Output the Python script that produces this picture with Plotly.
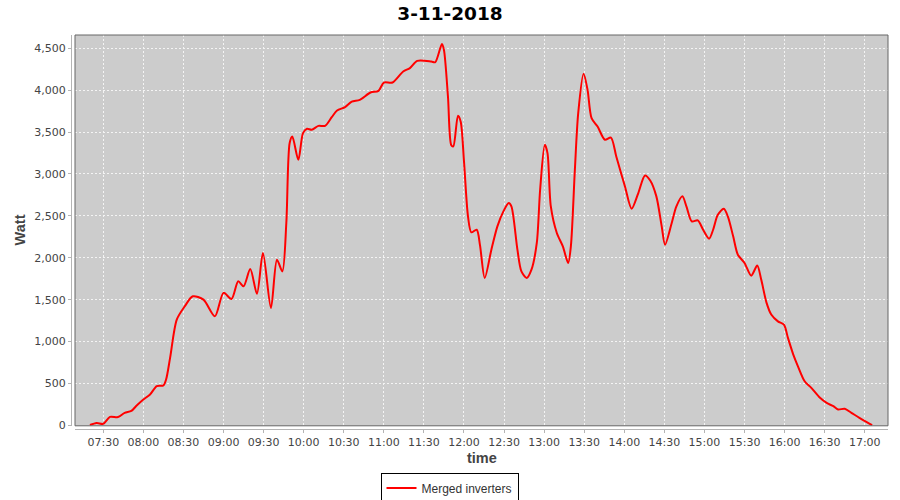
import plotly.graph_objects as go

DATE = "2018-11-03"
times = [
    "07:20:00", "07:25:00", "07:30:00", "07:35:00", "07:41:00", "07:46:00", "07:51:00", "07:55:00",
    "08:00:00", "08:05:00", "08:10:00", "08:15:00", "08:17:00", "08:20:00", "08:25:00", "08:31:00",
    "08:37:00", "08:45:00", "08:53:30", "09:00:00", "09:06:00", "09:11:00", "09:15:00", "09:20:00",
    "09:25:00", "09:29:30", "09:35:30", "09:40:00", "09:44:00", "09:47:00", "09:49:30", "09:51:30",
    "09:56:00", "09:59:30", "10:02:30", "10:06:00", "10:11:00", "10:16:00", "10:21:00", "10:25:00",
    "10:31:00", "10:36:00", "10:42:00", "10:50:00", "10:56:00", "11:00:00", "11:06:30", "11:14:30",
    "11:19:30", "11:25:00", "11:35:30", "11:38:30", "11:43:30", "11:45:00", "11:48:00", "11:50:30",
    "11:52:00", "11:55:30", "11:57:30", "12:00:00", "12:03:00", "12:05:30", "12:09:30", "12:12:00",
    "12:15:30", "12:20:30", "12:25:00", "12:29:30", "12:33:30", "12:35:30", "12:40:00", "12:43:00",
    "12:47:00", "12:50:30", "12:54:30", "12:57:00", "13:00:30", "13:02:30", "13:05:00", "13:09:30",
    "13:14:00", "13:18:00", "13:20:00", "13:23:00", "13:25:30", "13:29:30", "13:32:30", "13:35:30",
    "13:40:00", "13:45:30", "13:50:00", "13:54:00", "14:00:30", "14:05:30", "14:10:30", "14:15:30",
    "14:19:30", "14:24:00", "14:28:00", "14:30:30", "14:35:30", "14:39:00", "14:43:30", "14:46:30",
    "14:50:30", "14:55:00", "14:59:00", "15:03:30", "15:06:30", "15:10:00", "15:14:30", "15:17:30",
    "15:21:30", "15:25:00", "15:30:00", "15:35:00", "15:39:30", "15:42:30", "15:46:30", "15:50:00",
    "15:55:00", "15:59:30", "16:02:30", "16:06:30", "16:10:00", "16:15:00", "16:20:00", "16:26:30",
    "16:31:30", "16:36:30", "16:40:00", "16:45:00", "16:50:00", "16:56:00", "17:01:30", "17:05:30",
]
watts = [
    5, 30, 20, 103, 100, 150, 173, 238,
    310, 369, 469, 477, 548, 806, 1263, 1422,
    1541, 1501, 1303, 1582, 1509, 1720, 1660, 1866,
    1572, 2057, 1402, 1978, 1838, 2415, 3369, 3447,
    3169, 3487, 3539, 3527, 3574, 3574, 3678, 3757,
    3797, 3864, 3885, 3972, 3992, 4091, 4091, 4223,
    4263, 4349, 4341, 4333, 4552, 4481, 3924, 3342,
    3329, 3694, 3626, 3151, 2494, 2304, 2335, 2148,
    1760, 2097, 2375, 2554, 2653, 2613, 2097, 1838,
    1760, 1858, 2177, 2812, 3348, 3249, 2613, 2296,
    2136, 1939, 2136, 3051, 3725, 4195, 4004, 3666,
    3566, 3408, 3435, 3209, 2851, 2586, 2773, 2982,
    2920, 2733, 2375, 2157, 2415, 2613, 2733, 2613,
    2434, 2447, 2335, 2228, 2335, 2514, 2586, 2494,
    2256, 2037, 1939, 1787, 1907, 1740, 1462, 1323,
    1242, 1203, 1045, 846, 706, 528, 449, 330,
    269, 230, 191, 199, 151, 91, 39, 4,
]
x_ticks = ["07:30", "08:00", "08:30", "09:00", "09:30", "10:00", "10:30", "11:00", "11:30", "12:00",
           "12:30", "13:00", "13:30", "14:00", "14:30", "15:00", "15:30", "16:00", "16:30", "17:00"]
y_ticks = [0, 500, 1000, 1500, 2000, 2500, 3000, 3500, 4000, 4500]

title_text = "3-11-2018"
series_name = "Merged inverters"

xs = [f"{DATE} {t}" for t in times]

fig = go.Figure()
fig.add_trace(go.Scatter(
    x=xs, y=watts, mode="lines", name=series_name,
    line=dict(color="#ff0000", width=2, shape="spline", smoothing=0.8),
))

TICKFONT = dict(family="DejaVu Sans", size=11, color="#444444")
AXCOL = "#b4b4b4"

fig.update_layout(
    width=900, height=500,
    margin=dict(l=71, r=12, t=35, b=70.5, pad=0, autoexpand=False),
    paper_bgcolor="white", plot_bgcolor="#cccccc",
    title=dict(text=title_text, x=0.5, xref="container", xanchor="center",
               y=(500 - 13.5) / 500, yref="container", yanchor="middle",
               font=dict(family="DejaVu Sans", size=18.5, color="black", weight="bold")),
    showlegend=True,
    legend=dict(orientation="h", x=449.5 / 900, xanchor="center", xref="container",
                y=(500 - 488) / 500, yanchor="middle", yref="container",
                bordercolor="black", borderwidth=1, bgcolor="white",
                font=dict(family="Liberation Sans", size=12, color="#333333"),
                itemwidth=30, tracegroupgap=0),
    xaxis=dict(
        type="date", domain=[4 / 817, 1], anchor="free", position=0, automargin=False,
        range=[f"{DATE} 07:08:49", f"{DATE} 17:17:24"],
        tickvals=[f"{DATE} {t}:00" for t in x_ticks], ticktext=x_ticks,
        showgrid=True, gridcolor="#f4f4f4", gridwidth=1, griddash="2px,2px",
        showline=True, linecolor=AXCOL, linewidth=1,
        ticks="outside", ticklen=3, tickcolor=AXCOL, tickwidth=1,
        tickfont=TICKFONT, zeroline=False, fixedrange=True,
    ),
    yaxis=dict(
        domain=[3.2 / 394.5, 1], anchor="free", position=0, automargin=False,
        range=[-4, 4658], tickvals=y_ticks, tickformat=",",
        showgrid=True, gridcolor="#f4f4f4", gridwidth=1, griddash="2px,2px",
        showline=True, linecolor=AXCOL, linewidth=1,
        ticks="outside", ticklen=3, tickcolor=AXCOL, tickwidth=1,
        tickfont=TICKFONT, zeroline=False, fixedrange=True,
    ),
    shapes=[dict(type="rect", xref="x domain", yref="y domain", x0=0, x1=1, y0=0, y1=1,
                 line=dict(color="#666666", width=1), fillcolor="rgba(0,0,0,0)", layer="above")],
    annotations=[
        dict(text="time", xref="x domain", x=0.5, yref="paper", y=(500 - 70.5 - 459) / 394.5,
             xanchor="center", yanchor="middle", showarrow=False,
             font=dict(family="Liberation Sans", size=14.5, color="#444444", weight="bold")),
        dict(text="Watt", xref="paper", x=(20 - 71) / 817, yref="y domain", y=0.5,
             xanchor="center", yanchor="middle", textangle=-90, showarrow=False,
             font=dict(family="Liberation Sans", size=14.5, color="#444444", weight="bold")),
    ],
)

fig.write_html("out.html", config={"displayModeBar": False},
               post_script="document.body.style.margin='0px';")
